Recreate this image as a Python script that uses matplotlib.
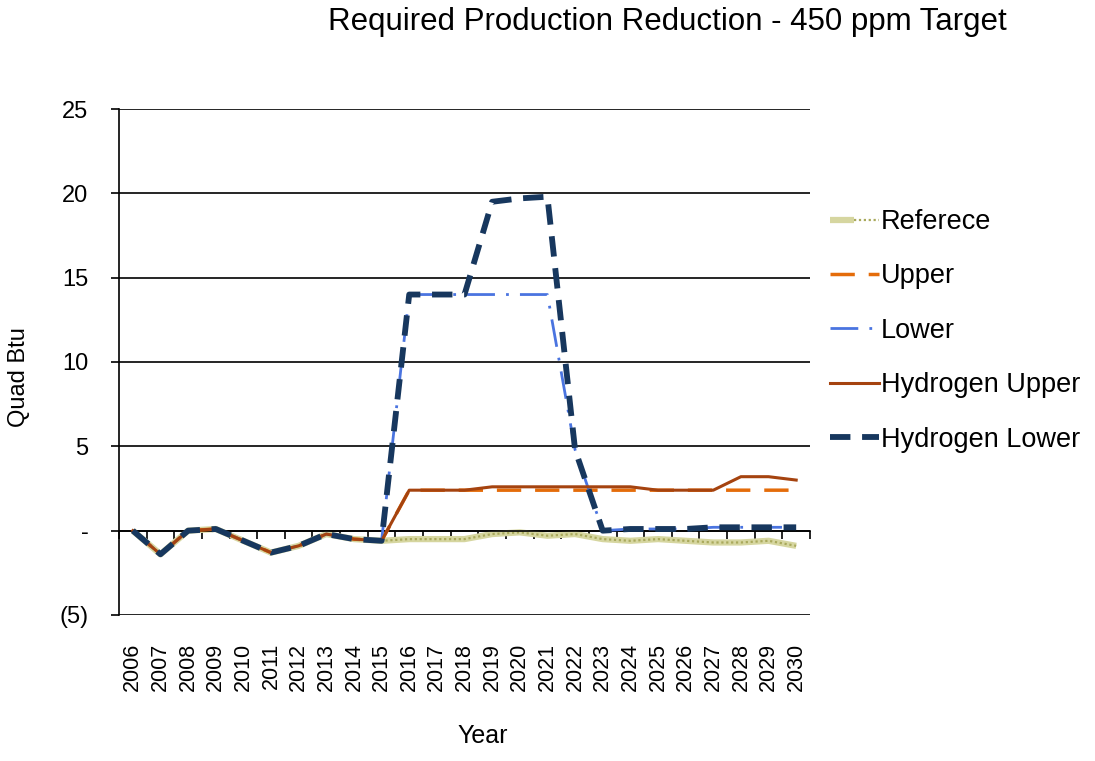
import matplotlib
matplotlib.use("Agg")
import matplotlib.pyplot as plt
from matplotlib.legend_handler import HandlerTuple
from matplotlib.ticker import FixedLocator, FuncFormatter

years = [str(y) for y in range(2006, 2031)]
reference = [0.0, -1.4, 0.0, 0.1, -0.6, -1.3, -0.9, -0.2, -0.5, -0.6,
             -0.5, -0.5, -0.5, -0.2, -0.1, -0.3, -0.2, -0.5, -0.6, -0.5,
             -0.6, -0.7, -0.7, -0.6, -0.9]
upper = [0.0, -1.4, 0.0, 0.1, -0.6, -1.3, -0.9, -0.2, -0.5, -0.6,
         2.4, 2.4, 2.4, 2.4, 2.4, 2.4, 2.4, 2.4, 2.4, 2.4,
         2.4, 2.4, 2.4, 2.4, 2.4]
lower = [0.0, -1.4, 0.0, 0.1, -0.6, -1.3, -0.9, -0.2, -0.5, -0.6,
         14.0, 14.0, 14.0, 14.0, 14.0, 14.0, 4.8, 0.0, 0.1, 0.1,
         0.1, 0.2, 0.2, 0.2, 0.2]
h2_upper = [0.0, -1.4, 0.0, 0.1, -0.6, -1.3, -0.9, -0.2, -0.5, -0.6,
            2.4, 2.4, 2.4, 2.6, 2.6, 2.6, 2.6, 2.6, 2.6, 2.4,
            2.4, 2.4, 3.2, 3.2, 3.0]
h2_lower = [0.0, -1.4, 0.0, 0.1, -0.6, -1.3, -0.9, -0.2, -0.5, -0.6,
            14.0, 14.0, 14.0, 19.5, 19.7, 19.8, 4.8, 0.0, 0.1, 0.1,
            0.1, 0.2, 0.2, 0.2, 0.2]
y_ticks = [-5, 0, 5, 10, 15, 20, 25]

plt.rcParams['font.family'] = ['Liberation Sans', 'DejaVu Sans']

W, H = 1095, 761
fig = plt.figure(figsize=(W / 100, H / 100), dpi=100)
ax = fig.add_axes([119/W, 1-615/H, (810-119)/W, (615-109)/H])

x = list(range(len(years)))

ref_base, = ax.plot(x, reference, color='#d6d6a0', lw=4.5, solid_capstyle='butt', zorder=2)
ref_dots, = ax.plot(x, reference, color='#a9a95c', lw=1.6, ls=(0, (1, 1.2)), zorder=2.1)
l_up, = ax.plot(x, upper, color='#e46c0a', lw=2.5, ls=(0, (7, 4)), zorder=3)
l_lo, = ax.plot(x, lower, color='#4a74e0', lw=2.0, ls=(0, (10, 4, 1, 4)), zorder=4)
l_hu, = ax.plot(x, h2_upper, color='#a5430f', lw=2.2, zorder=5)
l_hl, = ax.plot(x, h2_lower, color='#17375e', lw=4.2, ls=(0, (3.5, 2)), zorder=6)

ax.set_xlim(-0.5, len(years) - 0.5)
ax.set_ylim(-5, 25)

for s in ['top', 'right']:
    ax.spines[s].set_visible(False)
ax.spines['left'].set_color('black')
ax.spines['left'].set_linewidth(1.2)
ax.spines['bottom'].set_position(('data', 0))
ax.spines['bottom'].set_color('black')
ax.spines['bottom'].set_linewidth(1.2)

ax.yaxis.set_major_locator(FixedLocator(y_ticks))
def yfmt(v, pos):
    if v == 0:
        return '-'
    if v < 0:
        return '(%d)' % abs(v)
    return '%d' % v
ax.yaxis.set_major_formatter(FuncFormatter(yfmt))
ax.tick_params(axis='y', direction='out', length=6, width=1.2, pad=16, labelsize=17)
ax.yaxis.grid(True, color='black', lw=1.2)
ax.set_axisbelow(True)

ax.set_xticks([i + 0.5 for i in range(-1, len(years))])
ax.tick_params(axis='x', direction='out', length=6, width=1.2, labelbottom=False)

sec = ax.secondary_xaxis('bottom')
sec.set_xticks(x)
sec.set_xticklabels(years, rotation=90, fontsize=15.5)
sec.tick_params(axis='x', length=0, pad=20)
sec.spines['bottom'].set_visible(False)

fig.text(483/W, 1-736/H, 'Year', ha='center', va='center', fontsize=18)
fig.text(19/W, 1-377/H, 'Quad Btu', ha='center', va='center', rotation=90, fontsize=17)

fig.text(667/W, 1-22/H, 'Required Production Reduction - 450 ppm Target',
         ha='center', va='center', fontsize=22.5)

leg = fig.legend([(ref_base, ref_dots), l_up, l_lo, l_hu, l_hl],
                 ['Referece', 'Upper', 'Lower', 'Hydrogen Upper', 'Hydrogen Lower'],
                 handler_map={tuple: HandlerTuple(ndivide=None, pad=0)},
                 loc='upper left', bbox_to_anchor=(830/W, 1-209/H),
                 frameon=False, fontsize=19.5, handlelength=1.8,
                 handletextpad=0.08, labelspacing=1.05, borderpad=0,
                 borderaxespad=0)

fig.savefig('out.png', dpi=100)
